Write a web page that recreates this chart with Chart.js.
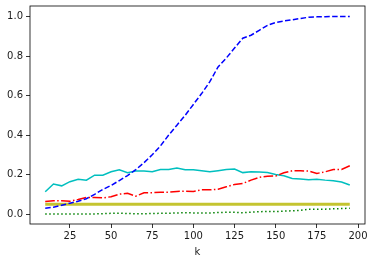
<!DOCTYPE html>
<html>
<head>
<meta charset="utf-8">
<script src="https://cdn.jsdelivr.net/npm/chart.js@4/dist/chart.umd.min.js"></script>
<style>
  html, body { margin: 0; padding: 0; background: #fff; }
  canvas { display: block; }
</style>
</head>
<body>
<canvas id="kChart" width="374" height="262"></canvas>
<script>
const kValues = [10, 15, 20, 25, 30, 35, 40, 45, 50, 55, 60, 65, 70, 75, 80, 85, 90, 95, 100,
  105, 110, 115, 120, 125, 130, 135, 140, 145, 150, 155, 160, 165, 170, 175, 180, 185, 190, 195];

const blueSeries = [0.03, 0.035, 0.045, 0.055, 0.065, 0.078, 0.10, 0.125, 0.145, 0.17,
  0.195, 0.225, 0.26, 0.30, 0.345, 0.40, 0.45, 0.50, 0.555, 0.61,
  0.67, 0.745, 0.79, 0.84, 0.89, 0.905, 0.93, 0.955, 0.97, 0.977,
  0.983, 0.99, 0.996, 0.998, 0.999, 1.0, 1.0, 1.0];

const redSeries = [0.064, 0.068, 0.068, 0.065, 0.074, 0.084, 0.084, 0.082, 0.088, 0.101,
  0.105, 0.091, 0.108, 0.108, 0.111, 0.111, 0.115, 0.116, 0.115, 0.123,
  0.123, 0.126, 0.138, 0.15, 0.155, 0.172, 0.186, 0.192, 0.193, 0.209,
  0.219, 0.219, 0.218, 0.206, 0.214, 0.226, 0.226, 0.245];

const cyanSeries = [0.113, 0.152, 0.143, 0.164, 0.176, 0.172, 0.197, 0.197, 0.214, 0.224,
  0.21, 0.218, 0.218, 0.214, 0.226, 0.226, 0.233, 0.224, 0.224, 0.219,
  0.214, 0.22, 0.226, 0.228, 0.21, 0.214, 0.213, 0.21, 0.2, 0.194,
  0.18, 0.178, 0.174, 0.176, 0.172, 0.169, 0.162, 0.147];

const yellowSeries = [0.05, 0.05, 0.05, 0.05, 0.05, 0.05, 0.05, 0.05, 0.05, 0.05,
  0.05, 0.05, 0.05, 0.05, 0.05, 0.05, 0.05, 0.05, 0.05, 0.05,
  0.05, 0.05, 0.05, 0.05, 0.05, 0.05, 0.05, 0.05, 0.05, 0.05,
  0.05, 0.05, 0.05, 0.05, 0.05, 0.05, 0.05, 0.05];

const greenSeries = [0.0, 0.0, 0.0, 0.0, 0.0, 0.0, 0.001, 0.002, 0.004, 0.005,
  0.003, 0.002, 0.002, 0.003, 0.004, 0.004, 0.006, 0.007, 0.006, 0.006,
  0.006, 0.008, 0.009, 0.009, 0.007, 0.01, 0.012, 0.014, 0.013, 0.015,
  0.017, 0.019, 0.025, 0.024, 0.025, 0.027, 0.028, 0.03];

const xTicks = [25, 50, 75, 100, 125, 150, 175, 200];
const yTicks = [0.0, 0.2, 0.4, 0.6, 0.8, 1.0];
const xTitle = 'k';

const toPoints = (ys) => kValues.map((k, i) => ({ x: k, y: ys[i] }));

// box round the plot area, like matplotlib axes spines
const frame = {
  id: 'frame',
  afterDraw(chart) {
    const { ctx, chartArea: a } = chart;
    ctx.save();
    ctx.strokeStyle = '#000';
    ctx.lineWidth = 0.8;
    ctx.strokeRect(a.left, a.top, a.right - a.left, a.bottom - a.top);
    ctx.restore();
  }
};

const line = (ys, color, width, dash) => ({
  data: toPoints(ys),
  borderColor: color,
  borderWidth: width,
  borderDash: dash,
  borderCapStyle: 'butt',
  pointRadius: 0,
  tension: 0,
  fill: false
});

const ctx = document.getElementById('kChart').getContext('2d');
new Chart(ctx, {
  type: 'line',
  data: {
    datasets: [
      line(blueSeries, '#0000ff', 1.5, [5.5, 2.4]),
      line(redSeries, '#ff0000', 1.5, [9.6, 2.4, 1.5, 2.4]),
      line(cyanSeries, '#00bfbf', 1.5, []),
      line(yellowSeries, '#c4c430', 3, []),
      line(greenSeries, '#008000', 1.5, [1.5, 2.5])
    ]
  },
  options: {
    responsive: false,
    animation: false,
    events: [],
    layout: { padding: { top: 6, right: 9, left: 0, bottom: 0 } },
    plugins: { legend: { display: false }, tooltip: { enabled: false } },
    scales: {
      x: {
        type: 'linear',
        min: 0.75,
        max: 204.25,
        afterBuildTicks: (s) => { s.ticks = xTicks.map(v => ({ value: v })); },
        afterFit: (s) => { s.height = 38; s.paddingLeft = 0; s.paddingRight = 0; },
        grid: { drawOnChartArea: false, drawTicks: true, tickLength: 4, color: '#000', lineWidth: 0.8 },
        border: { display: false },
        ticks: { color: '#1a1a1a', font: { family: 'DejaVu Sans', size: 10 }, padding: 2, maxRotation: 0 },
        title: { display: true, text: xTitle, color: '#1a1a1a', font: { family: 'DejaVu Sans', size: 10 }, padding: { top: 2, bottom: 4 } }
      },
      y: {
        min: -0.05,
        max: 1.053,
        afterBuildTicks: (s) => { s.ticks = yTicks.map(v => ({ value: v })); },
        afterFit: (s) => { s.width = 30; s.paddingTop = 0; s.paddingBottom = 0; },
        grid: { drawOnChartArea: false, drawTicks: true, tickLength: 4, color: '#000', lineWidth: 0.8 },
        border: { display: false },
        ticks: { color: '#1a1a1a', font: { family: 'DejaVu Sans', size: 10 }, padding: 3, callback: (v) => v.toFixed(1) }
      }
    }
  },
  plugins: [frame]
});
</script>
</body>
</html>
